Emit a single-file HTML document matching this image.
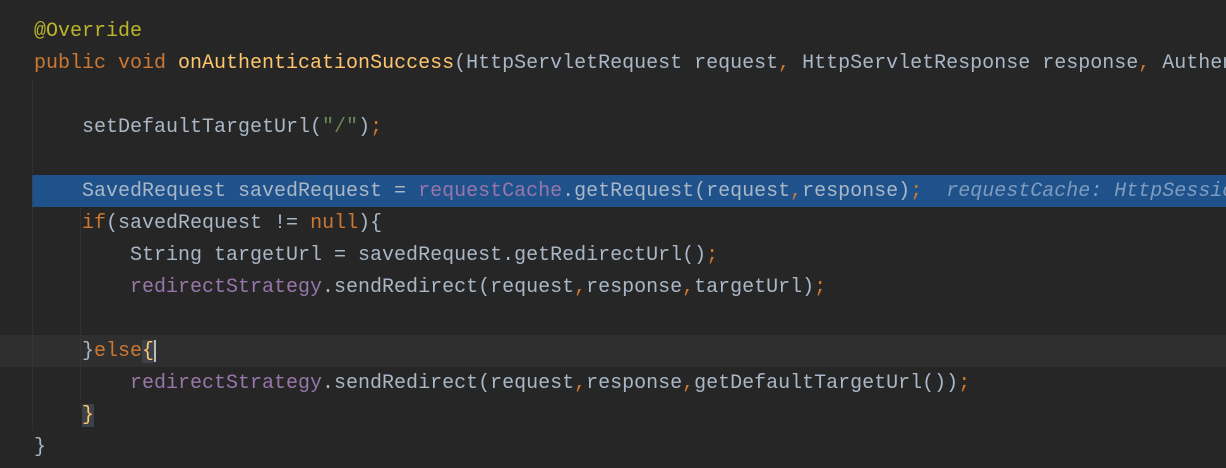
<!DOCTYPE html>
<html><head><meta charset="utf-8"><style>
html,body{margin:0;width:1226px;height:468px;overflow:hidden;}
body{background:#262626;position:relative;font-family:"Liberation Mono",monospace;font-size:20px;}
.l{position:absolute;left:34px;width:1192px;overflow:hidden;height:32px;line-height:32px;white-space:pre;color:#a9b7c6;}
.k{color:#cc7832}.p{color:#9876aa}.m{color:#ffc66d}.a{color:#bbb529}.s{color:#6a8759}
.hl{position:absolute;left:32px;width:1194px;top:175px;height:32px;background:#1f528b;}
.cl{position:absolute;left:0;width:1226px;top:335px;height:32px;background:#2f2f2f;}
.g{position:absolute;width:1px;border-left:1px dotted #3a3a3a;}
.br{background:#3b4146;color:#ffc66d}
.hint{color:#7f9bbd;font-style:italic}
</style></head><body>
<div class="cl"></div>
<div class="hl"></div>
<div class="g" style="left:32px;top:80px;height:350px"></div>
<div class="g" style="left:80px;top:208px;height:200px"></div>
<div class="l a" style="top:16px">@Override</div>
<div class="l" style="top:48px"><span class="k">public void </span><span class="m">onAuthenticationSuccess</span>(HttpServletRequest request<span class="k">, </span>HttpServletResponse response<span class="k">, </span>Authentication</div>
<div class="l" style="top:112px">    setDefaultTargetUrl(<span class="s">"/"</span>)<span class="k">;</span></div>
<div class="l" style="top:176px">    SavedRequest savedRequest = <span class="p">requestCache</span>.getRequest(request<span class="k">,</span>response)<span class="k">;</span>  <span class="hint">requestCache: HttpSession</span></div>
<div class="l" style="top:208px">    <span class="k">if</span>(savedRequest != <span class="k">null</span>){</div>
<div class="l" style="top:240px">        String targetUrl = savedRequest.getRedirectUrl()<span class="k">;</span></div>
<div class="l" style="top:272px">        <span class="p">redirectStrategy</span>.sendRedirect(request<span class="k">,</span>response<span class="k">,</span>targetUrl)<span class="k">;</span></div>
<div class="l" style="top:336px">    }<span class="k">else</span><span class="br">{</span><span style="display:inline-block;width:2px;height:22px;background:#bbbbbb;vertical-align:middle"></span></div>
<div class="l" style="top:368px">        <span class="p">redirectStrategy</span>.sendRedirect(request<span class="k">,</span>response<span class="k">,</span>getDefaultTargetUrl())<span class="k">;</span></div>
<div class="l" style="top:400px">    <span class="br">}</span></div>
<div class="l" style="top:432px">}</div>
</body></html>
